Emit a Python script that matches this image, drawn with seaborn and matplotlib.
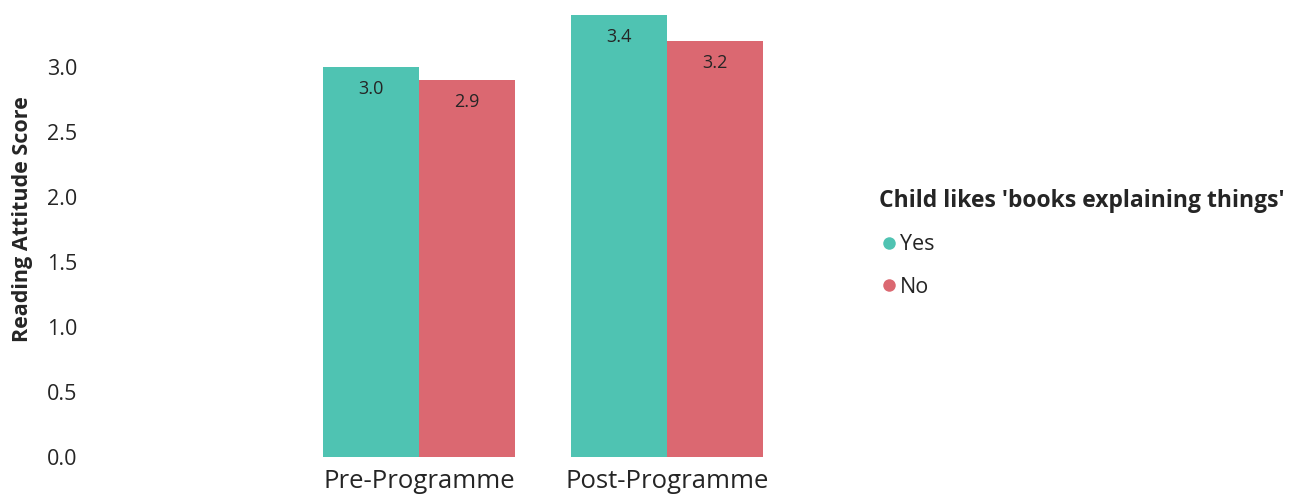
import matplotlib
matplotlib.use("Agg")
import matplotlib.pyplot as plt
import seaborn as sns
import pandas as pd
from matplotlib.lines import Line2D

periods = ["Pre-Programme", "Post-Programme"]
groups = ["Yes", "No"]
yes_values = [3.0, 3.4]
no_values = [2.9, 3.2]
y_ticks = [0.0, 0.5, 1.0, 1.5, 2.0, 2.5, 3.0]
colors = {"Yes": "#4FC3B2", "No": "#DB6871"}

df = pd.DataFrame({
    "Period": periods * 2,
    "Group": ["Yes"] * 2 + ["No"] * 2,
    "Score": yes_values + no_values,
})

sns.set_theme(style="white")
plt.rcParams["font.family"] = ["Open Sans", "DejaVu Sans"]

fig = plt.figure(figsize=(12.99, 4.96), dpi=100)
ax = fig.add_axes([90 / 1299, 1 - 456.7 / 496, 760 / 1299, (456.7 - 15) / 496])

sns.barplot(data=df, x="Period", y="Score", hue="Group", order=periods,
            hue_order=groups, palette=colors, width=0.774, saturation=1,
            ax=ax, legend=False, linewidth=0)

for c in ax.containers:
    ax.bar_label(c, fmt="%.1f", padding=-22, fontsize=13, color="#252525")

ax.set_ylim(0, 3.4)
ax.set_xlim(-1.33, 1.74)
ax.set_yticks(y_ticks)
ax.set_yticklabels([f"{v:.1f}" for v in y_ticks], fontsize=15.5, color="#252525")
ax.tick_params(axis="y", length=0, pad=9)
ax.tick_params(axis="x", length=0, pad=9, labelsize=18.5, labelcolor="#252525")
ax.set_xlabel("")
ax.set_ylabel("Reading Attitude Score", fontsize=15.5, fontweight="bold",
              color="#252525")
ax.yaxis.set_label_coords(-0.0755, 0.538)
for s in ax.spines.values():
    s.set_visible(False)
ax.grid(False)

handles = [Line2D([0], [0], marker="o", linestyle="", markersize=9,
                  markerfacecolor=colors[g], markeredgewidth=0) for g in groups]
leg = fig.legend(handles, groups, title="Child likes 'books explaining things'",
                 loc="upper left", bbox_to_anchor=(870 / 1299, 1 - 180 / 496),
                 frameon=False, fontsize=15.5, title_fontsize=16.5,
                 alignment="left", handletextpad=0.0, labelspacing=1.0,
                 handlelength=1.0, borderaxespad=0)
leg.get_title().set_fontweight("bold")
leg.get_title().set_color("#252525")
for t in leg.get_texts():
    t.set_color("#252525")

fig.savefig("out.png", dpi=100)
